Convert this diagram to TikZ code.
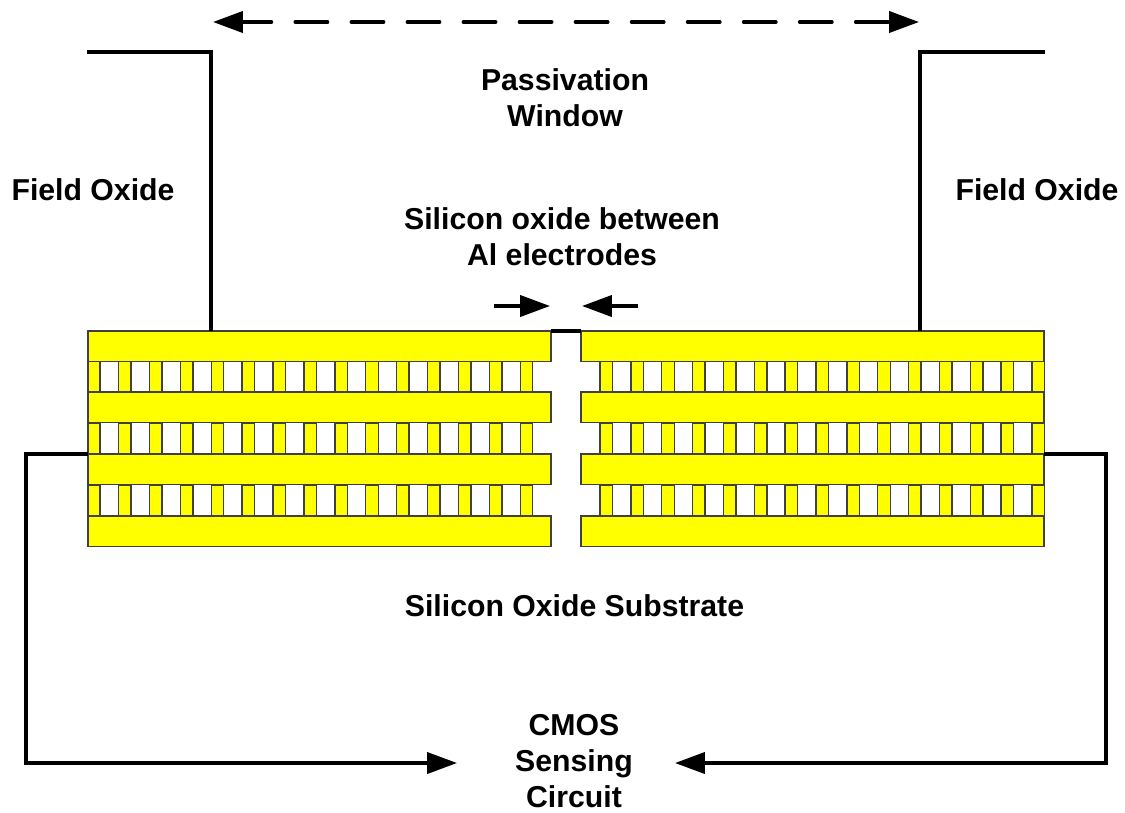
\documentclass[tikz,border=0pt]{standalone}
\usepackage{fontspec}
\setmainfont{Liberation Sans}
\usetikzlibrary{arrows.meta}

\definecolor{metalyellow}{RGB}{255,255,0}

\tikzset{
  label text/.style={font=\fontsize{17.2}{20.6}\selectfont\bfseries, align=center, inner sep=0pt},
  wire/.style={line width=2pt, line join=miter},
  pointer/.style={wire, -{Triangle[length=17pt,width=12pt]}},
  twoway/.style={wire, line cap=round, dash pattern=on 18.4pt off 13.5pt, dash phase=1.6pt, {Triangle[length=17pt,width=12pt]}-{Triangle[length=17pt,width=12pt]}},
  metal/.style={fill=metalyellow, draw=black!75, line width=0.8pt}
}

\begin{document}
\begin{tikzpicture}[x=0.02cm,y=-0.02cm]

\useasboundingbox (0,0) rectangle (1125,812);

\coordinate (tl) at (87,52);
\coordinate (tlc) at (211,52);
\coordinate (tlb) at (211,331);
\coordinate (tr) at (1045,52);
\coordinate (trc) at (920,52);
\coordinate (trb) at (920,331);

\coordinate (gapl) at (551,331);
\coordinate (gapr) at (581,331);
\coordinate (sl) at (88,454);
\coordinate (slc) at (26,454);
\coordinate (sld) at (26,763);
\coordinate (sle) at (457,763);
\coordinate (sr) at (1044,454);
\coordinate (src) at (1106,454);
\coordinate (srd) at (1106,763);
\coordinate (sre) at (675,763);

% fingers between the plates
\foreach \y in {361,423,485} {
    \draw [metal] (88,\y) rectangle (100,\y+31);
    \foreach \i in {0,...,13}
        \draw [metal] (118.5+\i*30.9,\y) rectangle (131+\i*30.9,\y+31);
    \foreach \i in {0,...,14}
        \draw [metal] (600+\i*30.86,\y) rectangle (612.5+\i*30.86,\y+31);
}

% plates
\foreach \y in {331,392,454,516} {
    \draw [metal] (88,\y) rectangle (551,\y+30.5);
    \draw [metal] (581,\y) rectangle (1044,\y+30.5);
}

\draw [wire] (tl) -- (tlc) -- (tlb);
\draw [wire] (tr) -- (trc) -- (trb);
\draw [wire] (gapl) -- (gapr);
\draw [pointer] (sl) -- (slc) -- (sld) -- (sle);
\draw [pointer] (sr) -- (src) -- (srd) -- (sre);

\coordinate (wl) at (213,22);
\coordinate (wr) at (919,22);
\draw [twoway] (wl) -- (wr);

\coordinate (al) at (494,306);
\coordinate (ar) at (550,306);
\coordinate (bl) at (638,306);
\coordinate (br) at (582,306);
\draw [pointer] (al) -- (ar);
\draw [pointer] (bl) -- (br);

\node [label text] (window) at (565,98) {Passivation\\Window};
\node [label text] (fieldl) at (93,190) {Field Oxide};
\node [label text] (fieldr) at (1037,190) {Field Oxide};
\node [label text] (gap) at (562,237) {Silicon oxide between\\Al electrodes};
\node [label text] (substrate) at (574.5,606) {Silicon Oxide Substrate};
\node [label text] (cmos) at (574,761) {CMOS\\Sensing\\Circuit};

\end{tikzpicture}
\end{document}
